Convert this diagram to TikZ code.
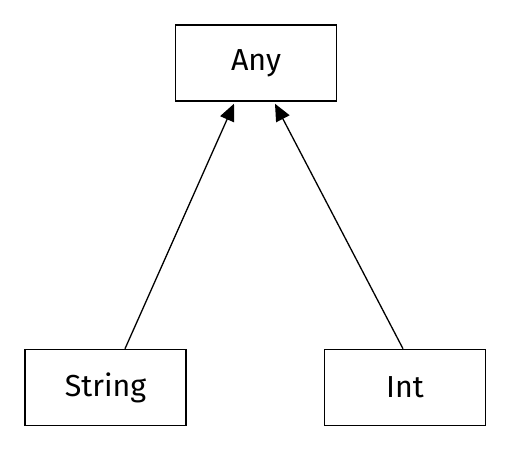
\documentclass[tikz,border=0pt]{standalone}
\usepackage{fontspec}
\setmainfont{Fira Sans}
\usetikzlibrary{arrows.meta}
\begin{document}
\begin{tikzpicture}[x=1bp,y=-1bp,
  typebox/.style={draw, line width=1.5bp, inner sep=0pt,
    minimum width=161bp, minimum height=76bp, font=\fontsize{30.5}{36}\selectfont},
  inherits/.style={line width=1.3bp,
    -{Triangle[length=17bp,width=15bp]}}]
  \useasboundingbox (0,0) rectangle (511,451);
  \node[typebox] (any) at (256,63) {Any};
  \node[typebox] (string) at (105.5,387.5) {String};
  \node[typebox] (int) at (405,387.5) {Int};
  \draw[inherits] ([xshift=19.5bp]string.north) -- ([xshift=-22bp,yshift=-2bp]any.south);
  \draw[inherits] ([xshift=-2bp]int.north) -- ([xshift=19bp,yshift=-2bp]any.south);
\end{tikzpicture}
\end{document}
